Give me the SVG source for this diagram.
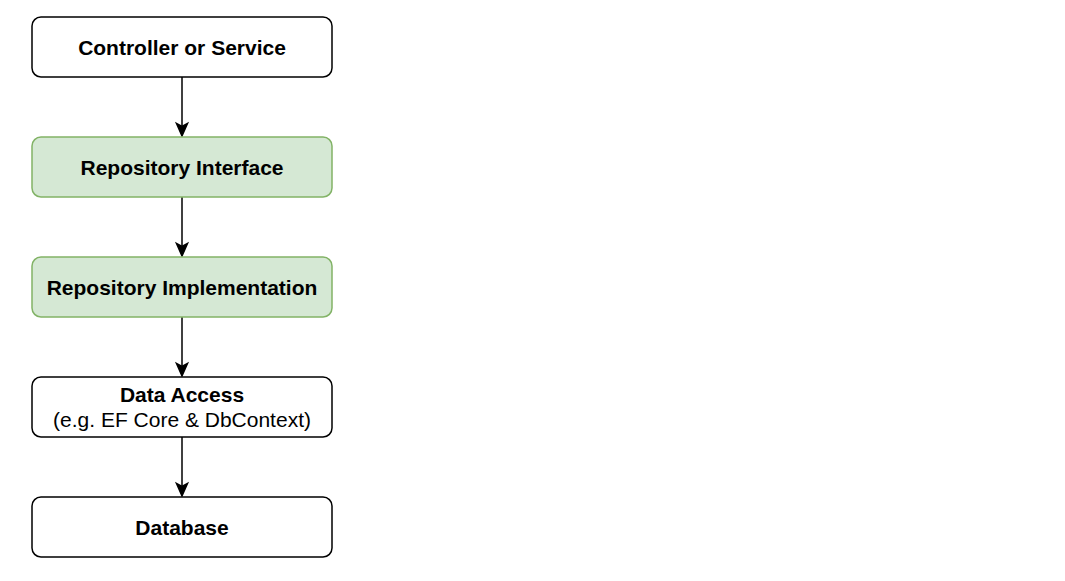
<svg xmlns="http://www.w3.org/2000/svg" width="1065" height="581" viewBox="0 0 1065 581">
<defs>
<style>
.box{fill:#ffffff;stroke:#000000;stroke-width:1.5}
.green{fill:#d5e8d4;stroke:#82b366;stroke-width:1.5}
.t{font-family:"Liberation Sans",Arial,sans-serif;font-size:21px;text-anchor:middle;fill:#000000}
.b{font-weight:bold}
.edge{stroke:#000000;stroke-width:1.5;fill:none}
.head{fill:#000000;stroke:#000000;stroke-width:1.5;stroke-linejoin:miter}
</style>
</defs>
<rect x="0" y="0" width="1065" height="581" fill="#ffffff"/>
<g id="connectors">
<line class="edge" x1="182" y1="77" x2="182" y2="129"/>
<path class="head" d="M182,136 L176.5,123.5 L182,126.5 L187.5,123.5 Z"/>
<line class="edge" x1="182" y1="197" x2="182" y2="249"/>
<path class="head" d="M182,256 L176.5,243.5 L182,246.5 L187.5,243.5 Z"/>
<line class="edge" x1="182" y1="317" x2="182" y2="369"/>
<path class="head" d="M182,376 L176.5,363.5 L182,366.5 L187.5,363.5 Z"/>
<line class="edge" x1="182" y1="437" x2="182" y2="489"/>
<path class="head" d="M182,496 L176.5,483.5 L182,486.5 L187.5,483.5 Z"/>
</g>
<g id="node-controller">
<rect class="box" x="32" y="17" width="300" height="60" rx="9"/>
<text class="t b" x="182" y="55">Controller or Service</text>
</g>
<g id="node-repo-interface">
<rect class="green" x="32" y="137" width="300" height="60" rx="9"/>
<text class="t b" x="182" y="175">Repository Interface</text>
</g>
<g id="node-repo-impl">
<rect class="green" x="32" y="257" width="300" height="60" rx="9"/>
<text class="t b" x="182" y="295">Repository Implementation</text>
</g>
<g id="node-data-access">
<rect class="box" x="32" y="377" width="300" height="60" rx="9"/>
<text class="t b" x="182" y="402">Data Access</text>
<text class="t" x="182" y="427">(e.g. EF Core &amp; DbContext)</text>
</g>
<g id="node-database">
<rect class="box" x="32" y="497" width="300" height="60" rx="9"/>
<text class="t b" x="182" y="535">Database</text>
</g>
</svg>
